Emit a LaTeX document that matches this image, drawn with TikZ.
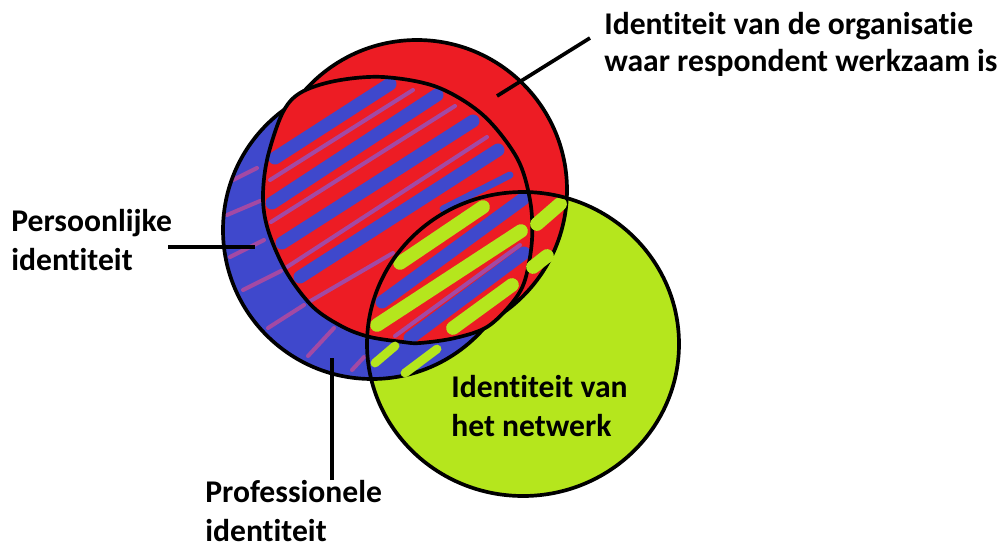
\documentclass[tikz,border=0pt]{standalone}
\usepackage{fontspec}
\setmainfont{Carlito}[Ligatures=NoCommon]
\definecolor{paintred}{RGB}{237,28,36}
\definecolor{paintblue}{RGB}{63,72,204}
\definecolor{paintlime}{RGB}{181,230,29}
\definecolor{paintpurple}{RGB}{163,73,164}
% outline of the inner (striped) region
\newcommand{\innerregion}{plot[smooth cycle, tension=0.55] coordinates {
  (282,114) (300,93) (335,81) (383,77) (437,87) (483,115) (517,158) (530,200)
  (532,240) (525,280) (512,303) (487,327) (455,338) (420,343) (403,342)
  (370,337) (343,327) (313,307) (287,273) (269,233) (263,200) (267,160)}}
\begin{document}
\begin{tikzpicture}[x=0.02cm,y=-0.02cm,
  outline/.style={draw=black,line width=2.1pt},
  leader/.style={draw=black,line width=2.1pt},
  bluestripe/.style={draw=paintblue,line width=7.4pt,line cap=round},
  thinblue/.style={draw=paintblue,line width=4pt,line cap=round},
  purplestripe/.style={draw=paintpurple,line width=2.3pt,line cap=round},
  limestripe/.style={draw=paintlime,line width=7.8pt,line cap=round},
  smalllime/.style={draw=paintlime,line width=5pt,line cap=round},
  lbl/.style={inner sep=0pt,align=left,anchor=base west,
    font=\fontsize{18pt}{22pt}\selectfont\bfseries}]
\useasboundingbox (0,0) rectangle (1006,544);

% network circle (filled first, outlined last)
\fill[paintlime] (523,344) ellipse [x radius=156, y radius=152];

% personal identity circle with thin purple hatching
\fill[paintblue] (372,230) circle [radius=149];
\begin{scope}
  \clip (372,230) circle [radius=149];
  \foreach \xa/\ya/\xb/\yb in {233/180/257/168, 227/215/260/201, 230/257/264/240,
                               243/290/281/271, 268/328/304/305, 308/356/334/328,
                               352/370/364/357}
    \draw[purplestripe] (\xa,\ya) -- (\xb,\yb);
\end{scope}
\draw[outline] (372,230) circle [radius=149];

% organisation circle
\fill[paintred] (417,190) circle [radius=150];
\draw[outline] (417,190) circle [radius=150];

% inner striped region
\fill[paintred] \innerregion;
\begin{scope}
  \clip \innerregion;
  % blue bands
  \draw[bluestripe] (275,158) -- (390,84);
  \draw[bluestripe] (272,203) -- (437,95);
  \draw[bluestripe] (282,243) -- (473,121);
  \draw[bluestripe] (300,277) -- (498,150);
  \draw[thinblue]   (443,209) -- (510,175);
  \draw[bluestripe] (382,302) -- (523,199);
  \draw[bluestripe] (410,338) -- (524,253);
  % purple lines
  \draw[purplestripe] (270,180) -- (413,90);
  \draw[purplestripe] (271,222) -- (455,106);
  \draw[purplestripe] (287,267) -- (487,137);
  \draw[purplestripe] (307,303) -- (393,253);
  \draw[purplestripe] (395,336) -- (520,245);
  % lime bands
  \draw[limestripe] (400,263) -- (483,207);
  \draw[limestripe] (377,325) -- (521,231);
  \draw[limestripe] (453,328) -- (512,285);
\end{scope}
\draw[outline] \innerregion;

% lime bands where the network overlaps the other circles
\draw[limestripe] (537,224) -- (560,204);
\draw[limestripe] (533,267) -- (547,256);
\draw[smalllime] (375,363) -- (395,346);
\draw[smalllime] (405,373) -- (437,349);

\draw[outline] (523,344) ellipse [x radius=156, y radius=152];

% labels (anchored at the baseline of their last line)
\node[lbl,font=\fontsize{18pt}{20.8pt}\selectfont\bfseries] (org) at (604,71.5)
  {Identiteit van de organisatie\\waar respondent werkzaam is};
\node[lbl] (pers) at (11,270.5) {Persoonlijke\\identiteit};
\node[lbl] (prof) at (205,541.5) {Professionele\\identiteit};
\node[lbl] (net) at (451,436) {Identiteit van\\het netwerk};

% leader lines
\coordinate (orgend) at (590,38);
\coordinate (orgtip) at (497,96);
\coordinate (persend) at (168,247);
\coordinate (perstip) at (255,247);
\coordinate (profend) at (332,480);
\coordinate (proftip) at (332,358);
\draw[leader] (orgend) -- (orgtip);
\draw[leader] (persend) -- (perstip);
\draw[leader] (profend) -- (proftip);
\end{tikzpicture}
\end{document}
